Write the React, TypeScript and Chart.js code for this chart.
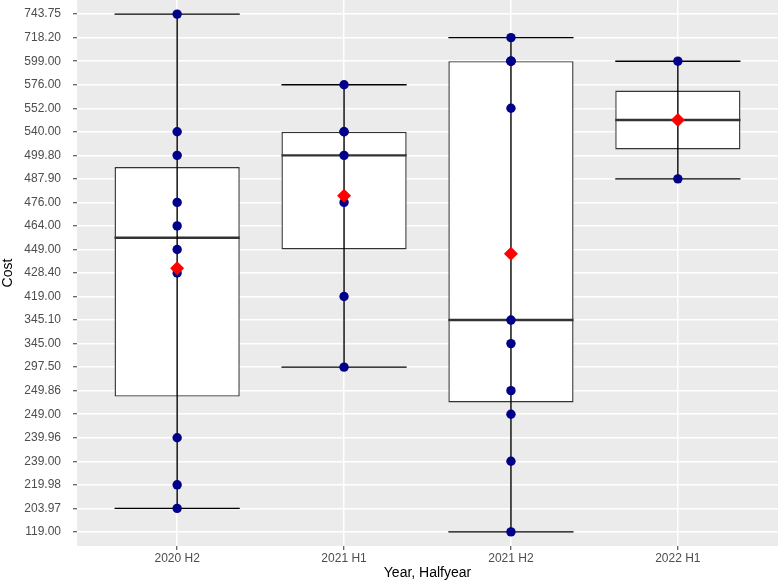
import React, { useEffect, useRef } from 'react';
import { Chart, registerables } from 'chart.js';

Chart.register(...registerables);

// Categories (x) and discrete cost levels (y tick labels, bottom to top)
const groups = ['2020 H2', '2021 H1', '2021 H2', '2022 H1'];
const costLevels = [
  '119.00', '203.97', '219.98', '239.00', '239.96', '249.00', '249.86', '297.50',
  '345.00', '345.10', '419.00', '428.40', '449.00', '464.00', '476.00', '487.90',
  '499.80', '540.00', '552.00', '576.00', '599.00', '718.20', '743.75',
];

// Observed costs per half-year
const cost2020H2 = [743.75, 540.0, 499.8, 476.0, 464.0, 449.0, 428.4, 239.96, 219.98, 203.97];
const cost2021H1 = [576.0, 540.0, 540.0, 499.8, 476.0, 419.0, 297.5];
const cost2021H2 = [718.2, 599.0, 599.0, 599.0, 552.0, 345.1, 345.0, 249.86, 249.0, 239.0, 119.0];
const cost2022H1 = [599.0, 487.9];
const groupCosts = [cost2020H2, cost2021H1, cost2021H2, cost2022H1];

const levelOf = (v: number) => costLevels.indexOf(v.toFixed(2)) + 1;

function quantile(sorted: number[], p: number) {
  const h = (sorted.length - 1) * p;
  const lo = Math.floor(h);
  const hi = Math.ceil(h);
  return sorted[lo] + (h - lo) * (sorted[hi] - sorted[lo]);
}

const stats = groupCosts.map((arr) => {
  const s = arr.map(levelOf).sort((a, b) => a - b);
  const q1 = quantile(s, 0.25);
  const med = quantile(s, 0.5);
  const q3 = quantile(s, 0.75);
  const iqr = q3 - q1;
  const lo = Math.min(...s.filter((v) => v >= q1 - 1.5 * iqr));
  const hi = Math.max(...s.filter((v) => v <= q3 + 1.5 * iqr));
  const mean = s.reduce((a, b) => a + b, 0) / s.length;
  return { q1, med, q3, lo, hi, mean };
});

const FONT = "'Liberation Sans', Arial, Helvetica, sans-serif";
const BOX_HALF = 0.375;

const boxPlugin = {
  id: 'boxExtras',
  beforeDraw(chart: any) {
    const { ctx, chartArea } = chart;
    ctx.save();
    ctx.fillStyle = '#EBEBEB';
    ctx.fillRect(chartArea.left, chartArea.top, chartArea.right - chartArea.left, chartArea.bottom - chartArea.top);
    ctx.restore();
  },
  afterDatasetDraw(chart: any, args: any) {
    if (args.index !== 0) return;
    const { ctx } = chart;
    const xs = chart.scales.x;
    const ys = chart.scales.y;
    ctx.save();
    stats.forEach((st, i) => {
      const g = i + 1;
      const xl = xs.getPixelForValue(g - BOX_HALF);
      const xr = xs.getPixelForValue(g + BOX_HALF);
      const xc = xs.getPixelForValue(g);
      // median
      ctx.strokeStyle = '#333333';
      ctx.lineWidth = 2.4;
      ctx.beginPath();
      const ym = ys.getPixelForValue(st.med);
      ctx.moveTo(xl, ym);
      ctx.lineTo(xr, ym);
      ctx.stroke();
      // whisker caps
      ctx.strokeStyle = '#000000';
      ctx.lineWidth = 1.4;
      [st.lo, st.hi].forEach((v) => {
        const y = ys.getPixelForValue(v);
        ctx.beginPath();
        ctx.moveTo(xl, y);
        ctx.lineTo(xr, y);
        ctx.stroke();
      });
      // vertical line
      ctx.beginPath();
      ctx.moveTo(xc, ys.getPixelForValue(st.lo));
      ctx.lineTo(xc, ys.getPixelForValue(st.hi));
      ctx.stroke();
    });
    ctx.restore();
  },
};

export default function App() {
  const ref = useRef<HTMLCanvasElement | null>(null);

  useEffect(() => {
    document.body.style.margin = '0';
    const canvas = ref.current;
    if (!canvas) return;

    const pointData: { x: number; y: number }[] = [];
    groupCosts.forEach((arr, i) => arr.forEach((v) => pointData.push({ x: i + 1, y: levelOf(v) })));

    const chart = new Chart(canvas, {
      type: 'bar',
      data: {
        datasets: [
          {
            type: 'bar',
            data: stats.map((s, i) => ({ x: i + 1, y: [s.q1, s.q3] })) as any,
            backgroundColor: '#FFFFFF',
            borderColor: '#333333',
            borderWidth: 1.4,
            borderSkipped: false,
            barPercentage: 0.75,
            categoryPercentage: 1,
            order: 3,
          } as any,
          {
            type: 'scatter',
            data: pointData,
            backgroundColor: '#00008B',
            borderWidth: 0,
            pointRadius: 4.7,
            order: 2,
          } as any,
          {
            type: 'scatter',
            data: stats.map((s, i) => ({ x: i + 1, y: s.mean })),
            backgroundColor: '#FF0000',
            borderWidth: 0,
            pointStyle: 'rectRot',
            pointRadius: 7,
            order: 1,
          } as any,
        ],
      },
      options: {
        animation: false,
        responsive: false,
        devicePixelRatio: 1,
        layout: { padding: 0, autoPadding: false },
        plugins: { legend: { display: false }, tooltip: { enabled: false } },
        scales: {
          x: {
            type: 'linear',
            min: 0.4,
            max: 4.6,
            offset: false,
            grid: { offset: false, color: '#FFFFFF', lineWidth: 1.5, tickColor: '#333333', tickLength: 4, tickWidth: 1 },
            border: { display: false },
            afterBuildTicks: (s: any) => {
              s.ticks = groups.map((_, i) => ({ value: i + 1 }));
            },
            ticks: {
              callback: (v: any) => groups[Number(v) - 1],
              color: '#4D4D4D',
              font: { family: FONT, size: 12 },
              padding: 1,
              autoSkip: false,
              maxRotation: 0,
            },
            title: {
              display: true,
              text: 'Year, Halfyear',
              color: '#000000',
              font: { family: FONT, size: 14, lineHeight: 1.0 },
              padding: { top: 0, bottom: 0 },
            },
            afterFit: (s: any) => {
              s.height = 34;
              s.paddingLeft = 0;
              s.paddingRight = 0;
            },
          },
          y: {
            type: 'linear',
            min: 0.4,
            max: 23.6,
            grid: { color: '#FFFFFF', lineWidth: 1.5, tickColor: '#333333', tickLength: 4, tickWidth: 1 },
            border: { display: false },
            afterBuildTicks: (s: any) => {
              s.ticks = costLevels.map((_, i) => ({ value: i + 1 }));
            },
            ticks: {
              callback: (v: any) => costLevels[Number(v) - 1],
              color: '#4D4D4D',
              font: { family: FONT, size: 12 },
              padding: 12,
              autoSkip: false,
            },
            title: {
              display: true,
              text: 'Cost',
              color: '#000000',
              font: { family: FONT, size: 14 },
              padding: { top: 0, bottom: 0 },
            },
            afterFit: (s: any) => {
              s.width = 77;
              s.paddingTop = 0;
              s.paddingBottom = 0;
            },
          },
        },
      } as any,
      plugins: [boxPlugin],
    });

    return () => chart.destroy();
  }, []);

  return (
    <div style={{ width: 778, height: 580 }}>
      <canvas ref={ref} width={778} height={580} />
    </div>
  );
}
